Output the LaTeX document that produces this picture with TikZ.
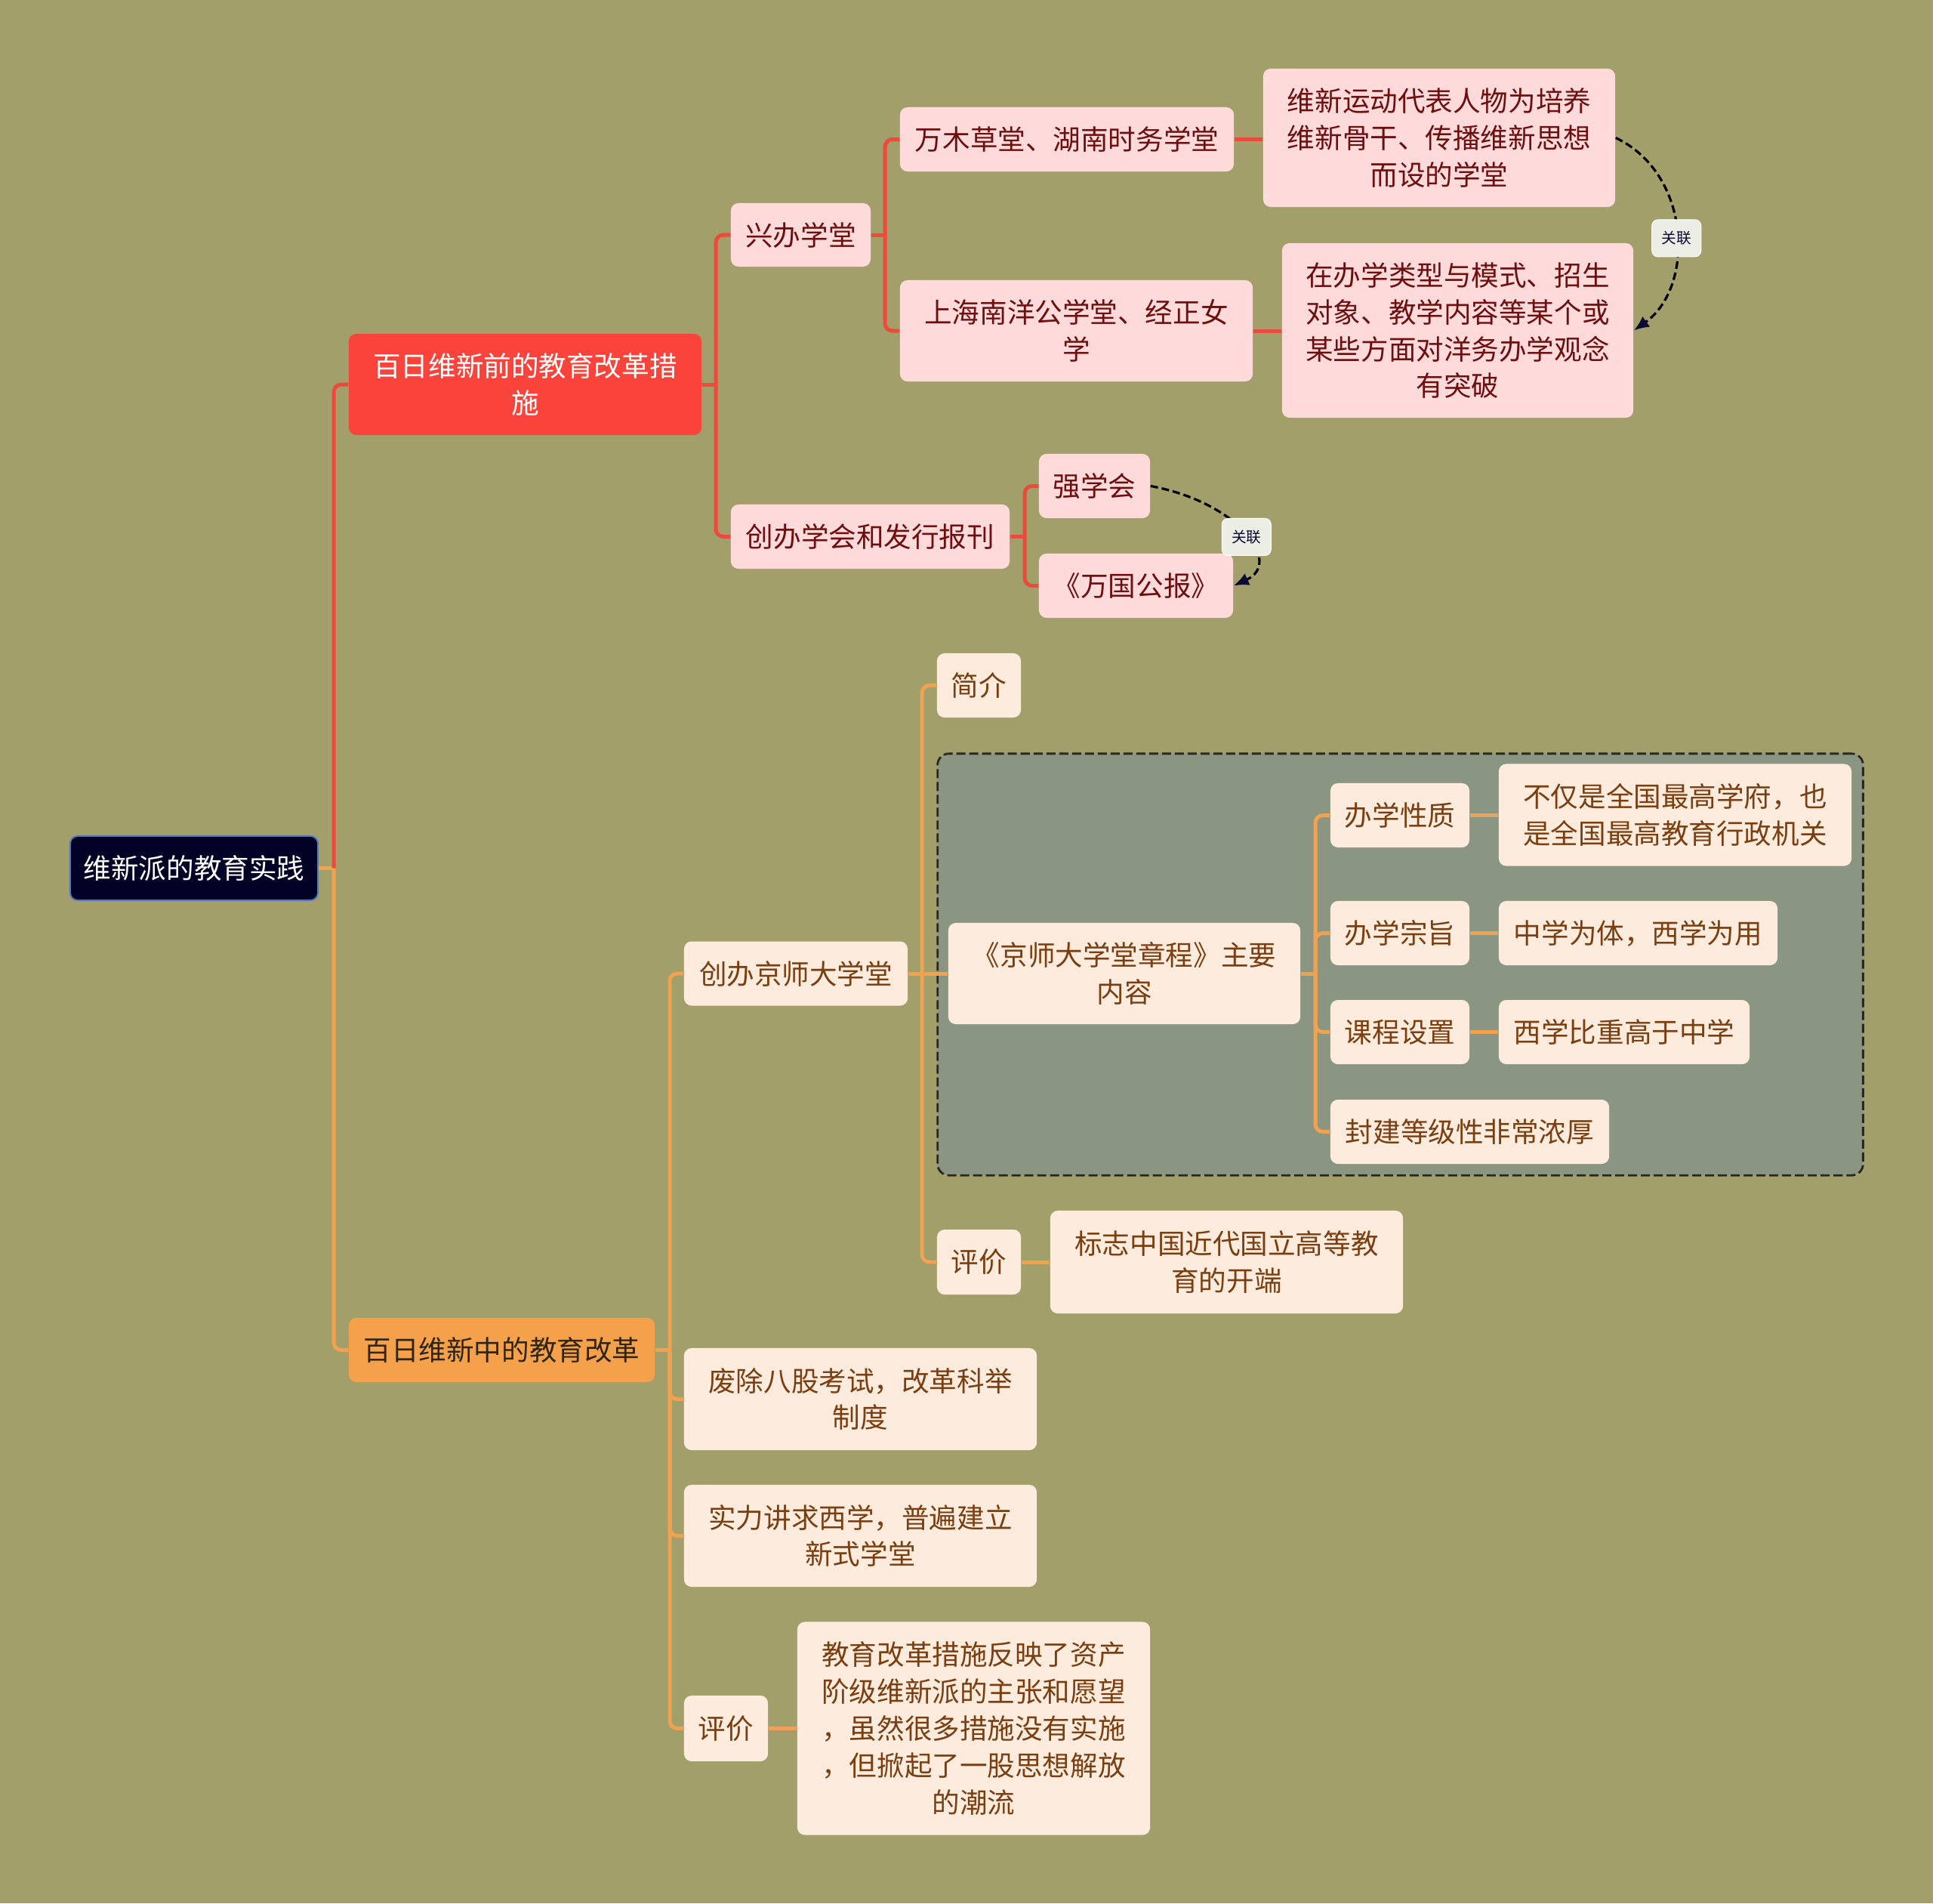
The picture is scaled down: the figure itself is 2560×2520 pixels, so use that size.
\documentclass[tikz,border=0pt]{standalone}
\usepackage{fontspec}
\setmainfont{Noto Sans CJK SC}
\usetikzlibrary{arrows.meta}
\definecolor{bgc}{RGB}{163,159,106}
\definecolor{rootfill}{RGB}{2,2,38}
\definecolor{rootborder}{RGB}{80,120,190}
\definecolor{redc}{RGB}{249,67,59}
\definecolor{redl}{RGB}{236,74,58}
\definecolor{orgc}{RGB}{245,160,75}
\definecolor{orgl}{RGB}{240,162,80}
\definecolor{orgtext}{RGB}{45,38,22}
\definecolor{pinkc}{RGB}{255,218,218}
\definecolor{pinktext}{RGB}{110,15,15}
\definecolor{creamc}{RGB}{253,236,221}
\definecolor{creamtext}{RGB}{122,62,16}
\definecolor{grpc}{RGB}{138,150,130}
\definecolor{grpb}{RGB}{40,40,32}
\definecolor{lblc}{RGB}{236,238,229}
\definecolor{navy}{RGB}{10,10,50}
\newcommand\nodefont{\fontsize{10.4pt}{13.9pt}\selectfont}
\newcommand\relfont{\fontsize{5.6pt}{7pt}\selectfont}
\tikzset{
  box/.style={rounded corners=0.1cm, inner sep=0pt, align=center, font=\nodefont},
  rootnode/.style={box, fill=rootfill, draw=rootborder, line width=0.02cm, text=white},
  rednode/.style={box, fill=redc, text=white},
  orgnode/.style={box, fill=orgc, text=orgtext},
  pinknode/.style={box, fill=pinkc, text=pinktext},
  creamnode/.style={box, fill=creamc, text=creamtext},
  grpbox/.style={rounded corners=0.15cm, fill=grpc, draw=grpb, line width=0.028cm, dash pattern=on 0.12cm off 0.05cm, inner sep=0pt},
  redlink/.style={draw=redl, line width=0.05cm, rounded corners=0.1cm},
  orglink/.style={draw=orgl, line width=0.05cm, rounded corners=0.1cm},
  rel/.style={draw=black, line width=0.032cm, dash pattern=on 0.1cm off 0.05cm, -{Latex[length=0.2cm,width=0.17cm,color=navy]}},
  rellabel/.style={solid, rounded corners=0.08cm, fill=lblc, draw=white, line width=0.01cm, inner sep=0pt, minimum width=0.65cm, minimum height=0.49cm, font=\relfont, text=navy}
}
\begin{document}
\begin{tikzpicture}[x=0.01cm,y=-0.01cm]
\fill[bgc] (0,0) rectangle (2560,2520);
\useasboundingbox (0,0) rectangle (2560,2520);

% group container
\node[grpbox, minimum width=12.25cm, minimum height=5.58cm] (grp) at (1854.5,1277) {};

% nodes
\node[rootnode, minimum width=3.28cm, minimum height=0.85cm] (root) at (257,1149.5) {维新派的教育实践};
\node[rednode, minimum width=4.67cm, minimum height=1.34cm] (pre) at (695.5,509) {百日维新前的教育改革措\\施};
\node[orgnode, minimum width=4.05cm, minimum height=0.85cm] (mid) at (664.5,1787.5) {百日维新中的教育改革};

\node[pinknode, minimum width=1.85cm, minimum height=0.84cm] (xb) at (1060.5,311) {兴办学堂};
\node[pinknode, minimum width=3.69cm, minimum height=0.85cm] (cb) at (1152.5,710.5) {创办学会和发行报刊};
\node[pinknode, minimum width=4.42cm, minimum height=0.85cm] (wm) at (1413,184.5) {万木草堂、湖南时务学堂};
\node[pinknode, minimum width=4.67cm, minimum height=1.34cm] (sh) at (1425.5,438) {上海南洋公学堂、经正女\\学};
\node[pinknode, minimum width=4.66cm, minimum height=1.83cm] (wx) at (1906,182.5) {维新运动代表人物为培养\\维新骨干、传播维新思想\\而设的学堂};
\node[pinknode, minimum width=4.65cm, minimum height=2.31cm] (zb) at (1930.5,437.5) {在办学类型与模式、招生\\对象、教学内容等某个或\\某些方面对洋务办学观念\\有突破};
\node[pinknode, minimum width=1.47cm, minimum height=0.85cm] (qx) at (1449.5,643.5) {强学会};
\node[pinknode, minimum width=2.57cm, minimum height=0.85cm] (wg) at (1504.5,775.5) {《万国公报》};

\node[creamnode, minimum width=2.96cm, minimum height=0.85cm] (cj) at (1054,1289) {创办京师大学堂};
\node[creamnode, minimum width=1.11cm, minimum height=0.85cm] (jj) at (1296.5,907.5) {简介};
\node[creamnode, minimum width=4.66cm, minimum height=1.34cm] (zc) at (1489,1289) {《京师大学堂章程》主要\\内容};
\node[creamnode, minimum width=1.84cm, minimum height=0.85cm] (xz) at (1854,1079.5) {办学性质};
\node[creamnode, minimum width=4.67cm, minimum height=1.35cm] (bj) at (2218.5,1079) {不仅是全国最高学府，也\\是全国最高教育行政机关};
\node[creamnode, minimum width=1.84cm, minimum height=0.85cm] (zz) at (1854,1235.5) {办学宗旨};
\node[creamnode, minimum width=3.69cm, minimum height=0.85cm] (zx) at (2169.5,1235.5) {中学为体，西学为用};
\node[creamnode, minimum width=1.84cm, minimum height=0.85cm] (kc) at (1854,1366.5) {课程设置};
\node[creamnode, minimum width=3.32cm, minimum height=0.85cm] (xx) at (2151,1366.5) {西学比重高于中学};
\node[creamnode, minimum width=3.69cm, minimum height=0.85cm] (fj) at (1946.5,1498.5) {封建等级性非常浓厚};
\node[creamnode, minimum width=1.11cm, minimum height=0.86cm] (pa) at (1296.5,1671) {评价};
\node[creamnode, minimum width=4.67cm, minimum height=1.36cm] (bz) at (1624.5,1671) {标志中国近代国立高等教\\育的开端};
\node[creamnode, minimum width=4.67cm, minimum height=1.35cm] (fc) at (1139.5,1852.5) {废除八股考试，改革科举\\制度};
\node[creamnode, minimum width=4.67cm, minimum height=1.35cm] (sl) at (1139.5,2033.5) {实力讲求西学，普遍建立\\新式学堂};
\node[creamnode, minimum width=1.11cm, minimum height=0.87cm] (pb) at (961.5,2288.5) {评价};
\node[creamnode, minimum width=4.67cm, minimum height=2.82cm] (jy) at (1289.5,2288.5) {教育改革措施反映了资产\\阶级维新派的主张和愿望\\，虽然很多措施没有实施\\，但掀起了一股思想解放\\的潮流};

% trunk positions
\coordinate (t0) at (442,0);
\coordinate (t1) at (948,0);
\coordinate (t2) at (1172,0);
\coordinate (t3) at (1357,0);
\coordinate (t4) at (887,0);
\coordinate (t5) at (1221,0);
\coordinate (t6) at (1742,0);

% root
\draw[orglink] (root.east) -- (t0 |- root.east);
\draw[redlink] (t0 |- root.east) -- (t0 |- pre.west) -- (pre.west);
\draw[orglink] (t0 |- root.east) -- (t0 |- mid.west) -- (mid.west);
% pre
\draw[redlink] (pre.east) -- (t1 |- pre.east);
\draw[redlink] (t1 |- pre.east) -- (t1 |- xb.west) -- (xb.west);
\draw[redlink] (t1 |- pre.east) -- (t1 |- cb.west) -- (cb.west);
% xb
\draw[redlink] (xb.east) -- (t2 |- xb.east);
\draw[redlink] (t2 |- xb.east) -- (t2 |- wm.west) -- (wm.west);
\draw[redlink] (t2 |- xb.east) -- (t2 |- sh.west) -- (sh.west);
\draw[redlink] (wm.east) -- (wx.west |- wm.east);
\draw[redlink] (sh.east) -- (zb.west |- sh.east);
% cb
\draw[redlink] (cb.east) -- (t3 |- cb.east);
\draw[redlink] (t3 |- cb.east) -- (t3 |- qx.west) -- (qx.west);
\draw[redlink] (t3 |- cb.east) -- (t3 |- wg.west) -- (wg.west);
% mid
\draw[orglink] (mid.east) -- (t4 |- mid.east);
\draw[orglink] (t4 |- mid.east) -- (t4 |- cj.west) -- (cj.west);
\draw[orglink] (t4 |- mid.east) -- (t4 |- fc.west) -- (fc.west);
\draw[orglink] (t4 |- mid.east) -- (t4 |- sl.west) -- (sl.west);
\draw[orglink] (t4 |- mid.east) -- (t4 |- pb.west) -- (pb.west);
\draw[orglink] (pb.east) -- (jy.west |- pb.east);
% cj
\draw[orglink] (cj.east) -- (zc.west);
\draw[orglink] (t5 |- cj.east) -- (t5 |- jj.west) -- (jj.west);
\draw[orglink] (t5 |- cj.east) -- (t5 |- pa.west) -- (pa.west);
\draw[orglink] (pa.east) -- (bz.west |- pa.east);
% zc
\draw[orglink] (zc.east) -- (t6 |- zc.east);
\draw[orglink] (t6 |- zc.east) -- (t6 |- xz.west) -- (xz.west);
\draw[orglink] (t6 |- zc.east) -- (t6 |- zz.west) -- (zz.west);
\draw[orglink] (t6 |- zc.east) -- (t6 |- kc.west) -- (kc.west);
\draw[orglink] (t6 |- zc.east) -- (t6 |- fj.west) -- (fj.west);
\draw[orglink] (xz.east) -- (bj.west |- xz.east);
\draw[orglink] (zz.east) -- (zx.west |- zz.east);
\draw[orglink] (kc.east) -- (xx.west |- kc.east);

% relations
\draw[rel] (wx.east) .. controls (2240,230) and (2245,380) .. node[rellabel, pos=0.53] (r1) {关联} (zb.east);
\draw[rel] (qx.east) .. controls (1640,665) and (1700,745) .. node[rellabel, pos=0.53] (r2) {关联} (wg.east);
\end{tikzpicture}
\end{document}
